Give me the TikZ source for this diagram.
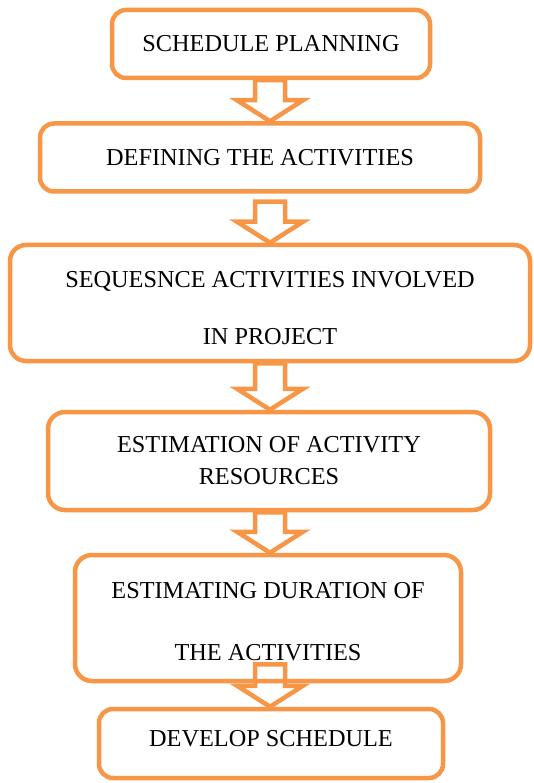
\documentclass[tikz,border=0pt]{standalone}
\usepackage{fontspec}
\setmainfont{Liberation Serif}
\usetikzlibrary{calc}

\definecolor{boxorange}{HTML}{F79646}
\tikzset{
  stage/.style={draw=boxorange, line width=4.5pt, rounded corners=14pt,
    align=center, inner sep=0pt, font=\fontsize{24.3}{29}\selectfont},
  flow/.style={draw=boxorange, line width=4.5pt, line join=miter},
}
% hollow block arrow from one stage down to the next
\newcommand{\flowarrow}[3][0]{%
  \draw[flow] ($(axis |- #2.south)+(-15,#1)$) -- ($(axis |- #3.north)+(-15,-21)$)
    -- ++(-18,0) -- (axis |- #3.north) -- ++(33,-21) -- ++(-18,0)
    -- ($(axis |- #2.south)+(15,#1)$) -- cycle;}

\begin{document}
\begin{tikzpicture}[x=1pt, y=-1pt]
  \useasboundingbox (0,0) rectangle (533,783);
  \coordinate (axis) at (270,0);

  \node[stage, minimum width=318pt, minimum height=68pt] (plan) at (271,44) {SCHEDULE PLANNING};
  \node[stage, minimum width=440pt, minimum height=68pt] (define) at (260,157.5) {DEFINING THE ACTIVITIES};
  \node[stage, minimum width=520pt, minimum height=116pt, rounded corners=16pt] (sequence) at (270,303)
    {\rule{0pt}{27pt}SEQUESNCE ACTIVITIES INVOLVED\\[28pt]IN PROJECT};
  \node[stage, minimum width=442pt, minimum height=98pt, rounded corners=17pt] (resources) at (269,461)
    {ESTIMATION OF ACTIVITY\\[3pt]RESOURCES};
  \node[stage, minimum width=386pt, minimum height=126pt, rounded corners=17pt] (duration) at (268,618)
    {\rule{0pt}{23pt}ESTIMATING DURATION OF\\[33pt]THE ACTIVITIES};
  \node[stage, minimum width=344pt, minimum height=69pt] (develop) at (271,743.5)
    {DEVELOP SCHEDULE\rule[-10pt]{0pt}{1pt}};

  \flowarrow{plan}{define}
  \flowarrow[8]{define}{sequence}
  \flowarrow{sequence}{resources}
  \flowarrow{resources}{duration}
  \flowarrow[-19]{duration}{develop}
\end{tikzpicture}
\end{document}
